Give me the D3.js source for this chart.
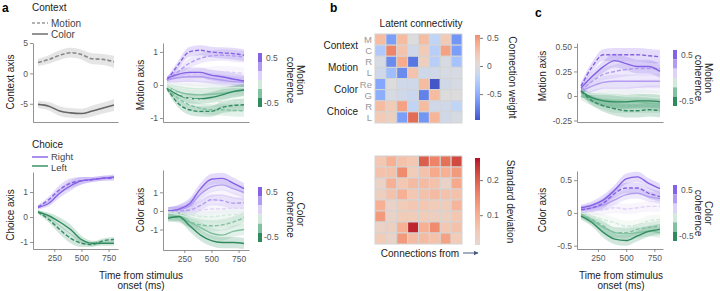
<!DOCTYPE html>
<html>
<head>
<meta charset="utf-8">
<script src="https://cdn.jsdelivr.net/npm/d3@7"></script>
<style>
body { margin: 0; background: #fff; }
svg { font-family: "Liberation Sans", Arial, sans-serif; }
</style>
</head>
<body>
<svg id="fig" width="720" height="291"></svg>
<script>
// time points (ms) shared by all trajectories
const times = [100, 200, 300, 400, 500, 600, 700, 800];
const timeTicks = [250, 500, 750];

// coherence levels: +0.5 ... -0.5 (purple -> green)
const cohColors = ["#8461e6", "#b29bf0", "#ddd2f8", "#d2e9dc", "#80c19f", "#2f8b5e"];

// a, context axis (d = dashed = motion context)
const contextSeries = [
  {c: "m", d: true,  v: [1.8, 2.3, 3.0, 3.4, 3.1, 2.4, 2.3, 1.9]},
  {c: "c", d: false, v: [-5.1, -5.4, -6.2, -6.5, -6.6, -6.2, -5.7, -5.2]}
];
const contextBand = [0.6, 0.7, 0.8, 0.8, 0.8, 0.9, 0.9, 1.0];

// a, motion axis
const aMotionSeries = [
  {c: 2, d: true,  v: [0.1, 0.2, 0.3, 0.35, 0.4, 0.4, 0.38, 0.35]},
  {c: 1, d: true,  v: [0.15, 0.4, 0.65, 0.8, 0.88, 0.9, 0.88, 0.85]},
  {c: 0, d: true,  v: [0.15, 0.6, 1.0, 1.05, 1.0, 0.97, 0.95, 0.9]},
  {c: 2, d: false, v: [0.1, 0.1, 0.12, 0.1, 0.08, 0.06, 0.05, 0.05]},
  {c: 1, d: false, v: [0.15, 0.22, 0.25, 0.25, 0.2, 0.15, 0.1, 0.08]},
  {c: 0, d: false, v: [0.2, 0.32, 0.38, 0.38, 0.3, 0.25, 0.18, 0.12]},
  {c: 3, d: false, v: [0, -0.05, -0.1, -0.12, -0.1, -0.1, -0.08, -0.08]},
  {c: 4, d: false, v: [-0.05, -0.2, -0.28, -0.3, -0.28, -0.25, -0.2, -0.15]},
  {c: 5, d: false, v: [-0.1, -0.3, -0.4, -0.42, -0.38, -0.3, -0.2, -0.15]},
  {c: 3, d: true,  v: [-0.05, -0.25, -0.4, -0.45, -0.5, -0.5, -0.5, -0.5]},
  {c: 4, d: true,  v: [-0.1, -0.4, -0.6, -0.7, -0.75, -0.75, -0.77, -0.78]},
  {c: 5, d: true,  v: [-0.1, -0.55, -0.75, -0.8, -0.8, -0.68, -0.62, -0.6]}
];
const aMotionBand = [0.08, 0.12, 0.15, 0.15, 0.16, 0.17, 0.18, 0.18];

// a, choice axis (0 = right, 5 = left)
const choiceSeries = [
  {c: 0, d: false, v: [0.38, 0.55, 0.95, 1.25, 1.45, 1.5, 1.55, 1.6]},
  {c: 0, d: true,  v: [0.4, 0.7, 1.1, 1.35, 1.45, 1.5, 1.55, 1.55]},
  {c: 5, d: false, v: [0.2, 0.05, -0.2, -0.5, -0.9, -1.05, -1.05, -1.05]},
  {c: 5, d: true,  v: [0.2, -0.1, -0.5, -0.85, -1.05, -1.1, -0.95, -0.9]}
];
const choiceBand = [0.08, 0.12, 0.18, 0.2, 0.15, 0.1, 0.1, 0.1];

// a, color axis
const aColorSeries = [
  {c: 2, d: true,  v: [0, 0, 0, 0.05, 0.1, 0.12, 0.15, 0.15]},
  {c: 2, d: false, v: [0, 0, 0.15, 0.5, 0.8, 0.85, 0.7, 0.6]},
  {c: 1, d: true,  v: [0, 0, 0.05, 0.3, 0.6, 0.55, 0.42, 0.45]},
  {c: 1, d: false, v: [0, 0.05, 0.3, 0.9, 1.3, 1.4, 1.2, 1.0]},
  {c: 0, d: false, v: [0, 0.1, 0.4, 1.2, 1.7, 1.75, 1.5, 1.2]},
  {c: 3, d: true,  v: [-0.05, -0.1, -0.2, -0.3, -0.3, -0.25, -0.2, -0.2]},
  {c: 3, d: false, v: [-0.1, -0.2, -0.35, -0.5, -0.6, -0.6, -0.55, -0.5]},
  {c: 4, d: true,  v: [-0.3, -0.4, -0.6, -0.75, -0.8, -0.75, -0.6, -0.35]},
  {c: 4, d: false, v: [-0.3, -0.3, -0.6, -0.9, -1.2, -1.3, -1.1, -1.0]},
  {c: 5, d: false, v: [-0.4, -0.3, -0.8, -1.3, -1.6, -1.7, -1.7, -1.75]}
];
const aColorBand = [0.2, 0.25, 0.3, 0.3, 0.3, 0.3, 0.3, 0.3];

// c, motion axis
const cMotionSeries = [
  {c: 2, d: false, v: [0.03, 0.05, 0.08, 0.08, 0.08, 0.09, 0.1, 0.1]},
  {c: 1, d: false, v: [0.05, 0.1, 0.14, 0.15, 0.15, 0.15, 0.15, 0.15]},
  {c: 1, d: true,  v: [0.05, 0.15, 0.22, 0.25, 0.27, 0.28, 0.28, 0.28]},
  {c: 0, d: false, v: [0.08, 0.2, 0.3, 0.36, 0.33, 0.3, 0.3, 0.25]},
  {c: 0, d: true,  v: [0.1, 0.3, 0.42, 0.42, 0.42, 0.42, 0.41, 0.4]},
  {c: 3, d: false, v: [0.02, 0.02, 0.02, 0.01, 0, 0, -0.01, -0.02]},
  {c: 4, d: false, v: [0.03, -0.02, -0.04, -0.05, -0.06, -0.06, -0.07, -0.08]},
  {c: 4, d: true,  v: [0, -0.05, -0.08, -0.1, -0.1, -0.1, -0.1, -0.1]},
  {c: 5, d: false, v: [0.05, -0.02, -0.05, -0.06, -0.06, -0.05, -0.05, -0.06]},
  {c: 5, d: true,  v: [0.05, -0.05, -0.1, -0.13, -0.15, -0.15, -0.14, -0.15]}
];
const cMotionBand = [0.04, 0.05, 0.06, 0.07, 0.07, 0.07, 0.07, 0.07];

// c, color axis
const cColorSeries = [
  {c: 2, d: true,  v: [0.02, 0.03, 0.05, 0.08, 0.06, 0.08, 0.1, 0.1]},
  {c: 1, d: false, v: [0.05, 0.08, 0.12, 0.2, 0.28, 0.3, 0.25, 0.22]},
  {c: 0, d: true,  v: [0.05, 0.08, 0.15, 0.3, 0.38, 0.38, 0.3, 0.25]},
  {c: 0, d: false, v: [0.08, 0.12, 0.2, 0.35, 0.52, 0.55, 0.45, 0.37]},
  {c: 3, d: true,  v: [0, -0.05, -0.1, -0.15, -0.2, -0.18, -0.12, -0.1]},
  {c: 4, d: true,  v: [-0.02, -0.1, -0.2, -0.3, -0.3, -0.25, -0.22, -0.2]},
  {c: 4, d: false, v: [-0.03, -0.12, -0.22, -0.3, -0.32, -0.3, -0.28, -0.3]},
  {c: 5, d: false, v: [-0.05, -0.15, -0.3, -0.4, -0.42, -0.35, -0.28, -0.25]}
];
const cColorBand = [0.05, 0.06, 0.08, 0.08, 0.08, 0.08, 0.08, 0.08];

// b, heatmaps
const rowGroups = ["Context", "Motion", "Color", "Choice"];
const rowLabels = ["M", "C", "R", "L", "Re", "G", "R", "L"];
const weights = [
  [0.3, -0.6, 0.3, 0.0, 0.3, -0.2, 0.2, -0.65],
  [-0.3, 0.6, 0.25, -0.1, 0.2, -0.25, 0.45, -0.6],
  [-0.05, -0.7, 0.4, -0.8, 0.15, -0.25, -0.05, -0.35],
  [-0.1, -0.4, -0.7, 0.25, -0.1, -0.1, -0.05, -0.05],
  [-0.55, 0.0, -0.1, -0.1, 0.3, -0.95, -0.1, -0.05],
  [-0.5, -0.05, -0.1, -0.15, -0.75, 0.3, 0.0, 0.0],
  [0.3, 0.2, 0.45, -0.2, 0.3, -0.1, -0.1, -0.2],
  [0.2, 0.15, -0.6, 0.7, -0.65, 0.35, -0.1, -0.05]
];
const stdDev = [
  [0.06, 0.1, 0.07, 0.06, 0.2, 0.16, 0.18, 0.22],
  [0.07, 0.07, 0.15, 0.05, 0.07, 0.11, 0.1, 0.13],
  [0.03, 0.1, 0.06, 0.08, 0.08, 0.07, 0.03, 0.11],
  [0.04, 0.07, 0.1, 0.06, 0.07, 0.08, 0.07, 0.07],
  [0.1, 0.03, 0.05, 0.06, 0.06, 0.05, 0.05, 0.09],
  [0.13, 0.03, 0.05, 0.05, 0.05, 0.04, 0.04, 0.06],
  [0.03, 0.04, 0.1, 0.25, 0.1, 0.15, 0.06, 0.07],
  [0.05, 0.03, 0.13, 0.08, 0.08, 0.07, 0.12, 0.05]
];

const svg = d3.select("#fig");
const coolwarm = d3.piecewise(d3.interpolateLab,
  ["#3b4cc0", "#5977e3", "#7b9ff9", "#9ebeff", "#c0d4f5", "#dddcdc",
   "#f2cbb7", "#f7ac8e", "#ee8468", "#d65244", "#b40426"]);

function fmt(v) {
  if (v === 0) return "0";
  return (v < 0 ? "-" : "") + d3.format("")(Math.abs(v));
}

function label(x, y, txt, opt) {
  opt = opt || {};
  const t = svg.append("text")
    .attr("transform", "translate(" + x + "," + y + ")" + (opt.rot ? " rotate(" + opt.rot + ")" : ""))
    .attr("font-size", opt.size || 10)
    .attr("fill", opt.fill || "#222")
    .attr("text-anchor", opt.anchor || "start")
    .attr("font-weight", opt.bold ? "bold" : null);
  if (Array.isArray(txt)) {
    txt.forEach(function(s, i) {
      t.append("tspan").attr("x", 0).attr("dy", i ? (opt.lh || 11) : 0).text(s);
    });
  } else t.text(txt);
  return t;
}

function drawPanel(cfg) {
  const x = d3.scaleLinear().domain([100, 800]).range(cfg.xr);
  const y = d3.scaleLinear().domain(cfg.yd).range([cfg.yb, cfg.yt]);
  const colorOf = cfg.colorOf || function(s) { return cohColors[s.c]; };
  const g = svg.append("g");

  const area = d3.area()
    .x(function(d, i) { return x(times[i]); })
    .y0(function(d, i) { return y(d - cfg.band[i]); })
    .y1(function(d, i) { return y(d + cfg.band[i]); })
    .curve(d3.curveMonotoneX);
  const line = d3.line()
    .x(function(d, i) { return x(times[i]); })
    .y(function(d) { return y(d); })
    .curve(d3.curveMonotoneX);

  g.selectAll(".band").data(cfg.series).enter().append("path")
    .attr("d", function(s) { return area(s.v); })
    .attr("fill", cfg.bandColor || colorOf)
    .attr("fill-opacity", cfg.bandOp || 0.22);

  g.selectAll(".ln").data(cfg.series).enter().append("path")
    .attr("d", function(s) { return line(s.v); })
    .attr("fill", "none")
    .attr("stroke", colorOf)
    .attr("stroke-width", cfg.lw || 1.4)
    .attr("stroke-dasharray", function(s) { return s.d ? "4,2" : null; });

  // y axis
  const ya = g.append("g")
    .attr("transform", "translate(" + cfg.ax[0] + ",0)")
    .call(d3.axisLeft(y).tickValues(cfg.ticks).tickSize(3).tickPadding(2)
      .tickSizeOuter(0).tickFormat(cfg.fmt || fmt));
  // x axis, drawn a bit wider than the data range
  const xa = d3.scaleLinear()
    .domain([x.invert(cfg.ax[0]), x.invert(cfg.ax[1])])
    .range(cfg.ax);
  const xg = g.append("g")
    .attr("transform", "translate(0," + cfg.yb + ")")
    .call(d3.axisBottom(xa).tickValues(cfg.xTicks ? timeTicks : []).tickSize(3)
      .tickPadding(3).tickSizeOuter(0));
  [ya, xg].forEach(function(a) {
    a.select(".domain").attr("stroke", "#777").attr("stroke-width", 0.8);
    a.selectAll(".tick line").attr("stroke", "#777").attr("stroke-width", 0.8);
    a.selectAll("text").attr("fill", "#555").attr("font-size", 8.5)
      .attr("font-family", "Liberation Sans, Arial, sans-serif");
  });
}

function cohBar(x, y0, y1, lines, lx) {
  const seg = d3.scaleBand().domain(d3.range(6)).range([y0, y1]);
  svg.selectAll(null).data(cohColors).enter().append("rect")
    .attr("x", x).attr("width", 4)
    .attr("y", function(d, i) { return seg(i); })
    .attr("height", seg.bandwidth())
    .attr("fill", function(d) { return d; });
  label(x + 8, seg(0) + seg.bandwidth() / 2 + 3, "0.5", {size: 8.5, fill: "#555"});
  label(x + 6, seg(5) + seg.bandwidth() / 2 + 3, "-0.5", {size: 8.5, fill: "#555"});
  // rotated clockwise: the second line sits to the left of the first
  label(lx, (y0 + y1) / 2, lines, {rot: 90, anchor: "middle", lh: 10});
}

// ---------- panel a ----------
label(2, 12, "a", {bold: true, size: 12, fill: "#000"});
label(32, 11, "Context");
svg.append("line").attr("x1", 32).attr("x2", 48).attr("y1", 23).attr("y2", 23)
  .attr("stroke", "#999").attr("stroke-width", 1.4).attr("stroke-dasharray", "3,2");
label(51, 27, "Motion", {fill: "#444"});
svg.append("line").attr("x1", 32).attr("x2", 48).attr("y1", 34).attr("y2", 34)
  .attr("stroke", "#666").attr("stroke-width", 1.4);
label(51, 38, "Color", {fill: "#444"});

drawPanel({series: contextSeries, band: contextBand, xr: [38, 114], ax: [33, 118],
  yd: [-8, 5], yb: 122, yt: 43, ticks: [-5, 0, 5],
  colorOf: function(s) { return s.d ? "#888" : "#666"; }, bandColor: "#aaa", bandOp: 0.3, lw: 1.6});
label(14, 82, "Context axis", {rot: -90, anchor: "middle"});

drawPanel({series: aMotionSeries, band: aMotionBand, xr: [167, 244], ax: [163, 249],
  yd: [-1.12, 1.27], yb: 122, yt: 43, ticks: [-1, 0, 1]});
label(144, 85, "Motion axis", {rot: -90, anchor: "middle"});
cohBar(258, 53, 107, ["Motion", "coherence"], 297);

label(32, 148, "Choice");
svg.append("line").attr("x1", 32).attr("x2", 48).attr("y1", 157).attr("y2", 157)
  .attr("stroke", cohColors[0]).attr("stroke-width", 1.4);
label(51, 160, "Right", {fill: "#444", size: 9.5});
svg.append("line").attr("x1", 32).attr("x2", 48).attr("y1", 166).attr("y2", 166)
  .attr("stroke", cohColors[5]).attr("stroke-width", 1.4);
label(51, 171, "Left", {fill: "#444", size: 9.5});

drawPanel({series: choiceSeries, band: choiceBand, xr: [38, 114], ax: [33, 118],
  yd: [-1.28, 1.8], yb: 249, yt: 172, ticks: [-1, 0, 1], xTicks: true});
label(14, 215, "Choice axis", {rot: -90, anchor: "middle"});

drawPanel({series: aColorSeries, band: aColorBand, xr: [168, 244], ax: [163, 249],
  yd: [-2.1, 2.2], yb: 250, yt: 170, ticks: [-1, 0, 1], xTicks: true});
label(144, 210, "Color axis", {rot: -90, anchor: "middle"});
cohBar(258, 187, 242, ["Color", "coherence"], 297);

label(141, 279, ["Time from stimulus", "onset (ms)"], {anchor: "middle", lh: 10});

// ---------- panel b ----------
label(330, 12, "b", {bold: true, size: 12, fill: "#000"});
label(421, 27, "Latent connectivity", {anchor: "middle"});

const hx = d3.scaleBand().domain(d3.range(8)).range([375, 462]);

function heat(mat, y0, y1, colorFn) {
  const hy = d3.scaleBand().domain(d3.range(8)).range([y0, y1]);
  const cells = [];
  mat.forEach(function(row, r) { row.forEach(function(v, c) { cells.push({r: r, c: c, v: v}); }); });
  svg.append("g").selectAll("rect").data(cells).enter().append("rect")
    .attr("x", function(d) { return hx(d.c); })
    .attr("y", function(d) { return hy(d.r); })
    .attr("width", hx.bandwidth()).attr("height", hy.bandwidth())
    .attr("fill", function(d) { return colorFn(d.v); })
    .attr("stroke", "#d4d4d4").attr("stroke-width", 1);
  return hy;
}

const hyTop = heat(weights, 34, 123, function(v) { return coolwarm(Math.max(0, Math.min(1, (v + 1) / 2))); });
rowLabels.forEach(function(s, i) {
  label(372, hyTop(i) + hyTop.bandwidth() / 2 + 3.5, s, {anchor: "end", fill: "#999", size: 9.5});
});
rowGroups.forEach(function(s, i) {
  label(358, hyTop(i * 2 + 1) + 3.5, s, {anchor: "end"});
});

const hyBot = heat(stdDev, 156, 244, function(v) { return coolwarm(Math.min(1, 0.5 + 0.5 * v / 0.265)); });

label(420, 257, "Connections from", {anchor: "middle"});
svg.append("defs").append("marker").attr("id", "arr")
  .attr("viewBox", "0 0 10 10").attr("refX", 9).attr("refY", 5)
  .attr("markerWidth", 5).attr("markerHeight", 5).attr("orient", "auto")
  .append("path").attr("d", "M0,0L10,5L0,10z").attr("fill", "#4a5a80");
svg.append("line").attr("x1", 463).attr("x2", 478).attr("y1", 253).attr("y2", 253)
  .attr("stroke", "#4a5a80").attr("stroke-width", 1).attr("marker-end", "url(#arr)");

function gradBar(id, x, y0, y1, domain, colorFn, ticks, tfmt, title, tx) {
  const s = d3.scaleLinear().domain(domain).range([y1, y0]);
  const grad = svg.select("defs").append("linearGradient").attr("id", id)
    .attr("x1", 0).attr("x2", 0).attr("y1", 1).attr("y2", 0);
  d3.range(0, 1.0001, 0.05).forEach(function(t) {
    grad.append("stop").attr("offset", t)
      .attr("stop-color", colorFn(domain[0] + t * (domain[1] - domain[0])));
  });
  svg.append("rect").attr("x", x).attr("y", y0).attr("width", 5).attr("height", y1 - y0)
    .attr("fill", "url(#" + id + ")");
  const ag = svg.append("g").attr("transform", "translate(" + (x + 5) + ",0)")
    .call(d3.axisRight(s).tickValues(ticks).tickSize(3).tickPadding(4).tickFormat(tfmt));
  ag.select(".domain").remove();
  ag.selectAll(".tick line").attr("stroke", "#777");
  ag.selectAll("text").attr("fill", "#555").attr("font-size", 8.5)
    .attr("font-family", "Liberation Sans, Arial, sans-serif");
  label(tx, (y0 + y1) / 2, title, {rot: 90, anchor: "middle"});
}

gradBar("gw", 475, 35, 120, [-0.96, 0.55],
  function(v) { return coolwarm((v + 1) / 2); }, [-0.5, 0, 0.5], fmt, "Connection weight", 509);
gradBar("gs", 475, 158, 245, [0.015, 0.263],
  function(v) { return coolwarm(Math.min(1, 0.5 + 0.5 * v / 0.265)); }, [0.1, 0.2], fmt, "Standard deviation", 507);

// ---------- panel c ----------
label(535, 17, "c", {bold: true, size: 12, fill: "#000"});
drawPanel({series: cMotionSeries, band: cMotionBand, xr: [581, 660], ax: [577, 663],
  yd: [-0.265, 0.54], yb: 122, yt: 43, ticks: [-0.25, 0, 0.25, 0.5],
  fmt: function(v) { return v === 0 ? "0" : (v < 0 ? "-" : "") + d3.format(".2f")(Math.abs(v)); }});
label(546, 76, "Motion axis", {rot: -90, anchor: "middle"});
cohBar(673, 50, 106, ["Motion", "coherence"], 705);

drawPanel({series: cColorSeries, band: cColorBand, xr: [581, 660], ax: [577, 663],
  yd: [-0.55, 0.64], yb: 249, yt: 171, ticks: [-0.5, 0, 0.5], xTicks: true});
label(546, 210, "Color axis", {rot: -90, anchor: "middle"});
cohBar(673, 185, 241, ["Color", "coherence"], 705);

label(621, 279, ["Time from stimulus", "onset (ms)"], {anchor: "middle", lh: 10});
</script>
</body>
</html>
